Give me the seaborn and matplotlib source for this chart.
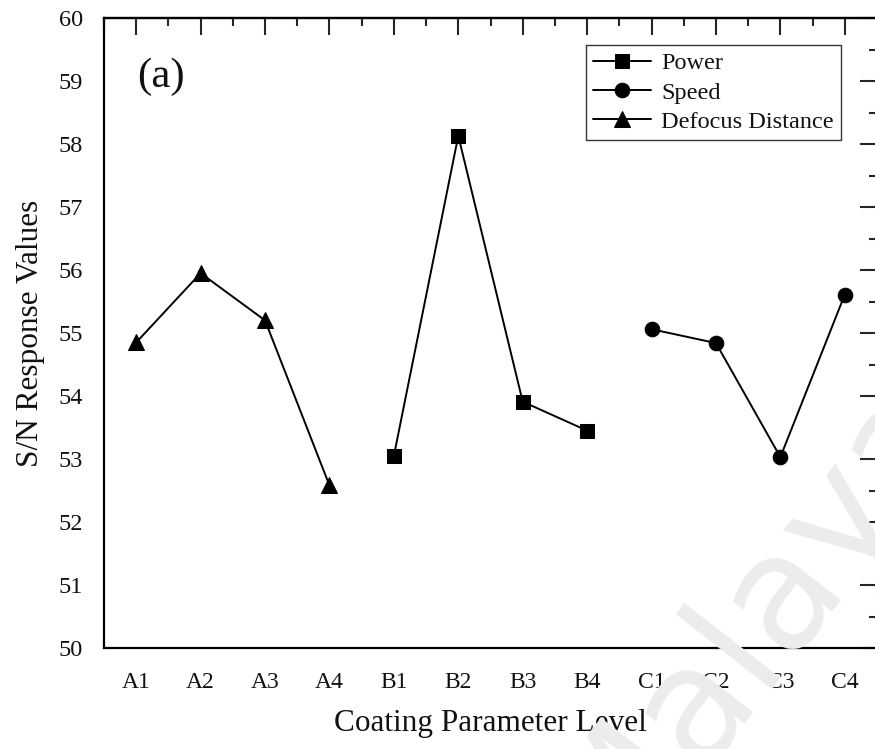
import matplotlib
matplotlib.use("Agg")
import matplotlib.pyplot as plt
import seaborn as sns
import pandas as pd
from matplotlib.ticker import MultipleLocator

# ---- data ----
levels = ["A1", "A2", "A3", "A4", "B1", "B2", "B3", "B4", "C1", "C2", "C3", "C4"]
defocus_levels = ["A1", "A2", "A3", "A4"]
defocus_values = [54.85, 55.95, 55.20, 52.58]
power_levels = ["B1", "B2", "B3", "B4"]
power_values = [53.05, 58.13, 53.91, 53.45]
speed_levels = ["C1", "C2", "C3", "C4"]
speed_values = [55.06, 54.84, 53.03, 55.61]

series = [
    ("Power", power_levels, power_values, "s", 9.5),
    ("Speed", speed_levels, speed_values, "o", 10.5),
    ("Defocus Distance", defocus_levels, defocus_values, "^", 11.5),
]

sns.set_theme(style="white")
plt.rcParams["font.family"] = ["Liberation Serif", "DejaVu Serif"]

fig = plt.figure(figsize=(8.75, 7.49), dpi=100)
ax = fig.add_axes([104 / 875, 1 - 648 / 749, (877 - 104) / 875, 630 / 749])

# faint watermark
fig.text(0.86, 0.17, "Malaya", fontsize=115, color="#ececec", rotation=52,
         ha="center", va="center", family="DejaVu Sans", zorder=0)
ax.patch.set_alpha(0)

for name, lv, vals, mk, ms in series:
    df = pd.DataFrame({"pos": [levels.index(l) for l in lv], "value": vals})
    sns.lineplot(data=df, x="pos", y="value", ax=ax, color="black",
                 marker=mk, markersize=ms, markeredgecolor="black",
                 markerfacecolor="black", linewidth=1.4, label=name,
                 legend=False)

ax.set_xlim(-0.5, 11.5)
ax.set_ylim(50, 60)

ax.set_xticks(range(len(levels)))
ax.set_xticklabels(levels)
ax.xaxis.set_minor_locator(MultipleLocator(0.5))
ax.yaxis.set_major_locator(MultipleLocator(1))
ax.yaxis.set_minor_locator(MultipleLocator(0.5))

for sp in ax.spines.values():
    sp.set_linewidth(1.6)
    sp.set_color("black")

ax.tick_params(axis="both", which="major", direction="out", length=12,
               width=1.5, color="black", labelcolor="#111111")
ax.tick_params(axis="both", which="minor", direction="out", length=6,
               width=1.5, color="black")
ax.tick_params(axis="x", which="major", pad=5, labelsize=17)
ax.tick_params(axis="y", which="major", pad=3, labelsize=17.5)

# inward ticks on top and right
top = ax.secondary_xaxis("top")
top.set_xticks(range(len(levels)))
top.xaxis.set_minor_locator(MultipleLocator(0.5))
top.tick_params(which="major", direction="in", length=12, width=1.5,
                labeltop=False)
top.tick_params(which="minor", direction="in", length=6, width=1.5)
top.spines["top"].set_linewidth(1.6)

right = ax.secondary_yaxis("right")
right.yaxis.set_major_locator(MultipleLocator(1))
right.yaxis.set_minor_locator(MultipleLocator(0.5))
right.tick_params(which="major", direction="in", length=12, width=1.5,
                  labelright=False)
right.tick_params(which="minor", direction="in", length=6, width=1.5)

ax.set_xlabel("Coating Parameter Level", fontsize=22.5, labelpad=12,
              color="#111111")
ax.set_ylabel("S/N Response Values", fontsize=22.5, labelpad=10,
              color="#111111")

ax.text(0.043, 0.937, "(a)", transform=ax.transAxes, fontsize=31,
        ha="left", va="top", color="#111111")

leg = ax.legend(loc="upper right", bbox_to_anchor=((841 - 104) / 773, 1 - 27 / 630),
                frameon=True, fancybox=False, fontsize=17.5, borderaxespad=0,
                handlelength=2.4, handletextpad=0.4, labelspacing=0.3,
                borderpad=0.3, edgecolor="black")
leg.get_frame().set_linewidth(1.0)
for t in leg.get_texts():
    t.set_color("#111111")

fig.savefig("out.png", dpi=100)
